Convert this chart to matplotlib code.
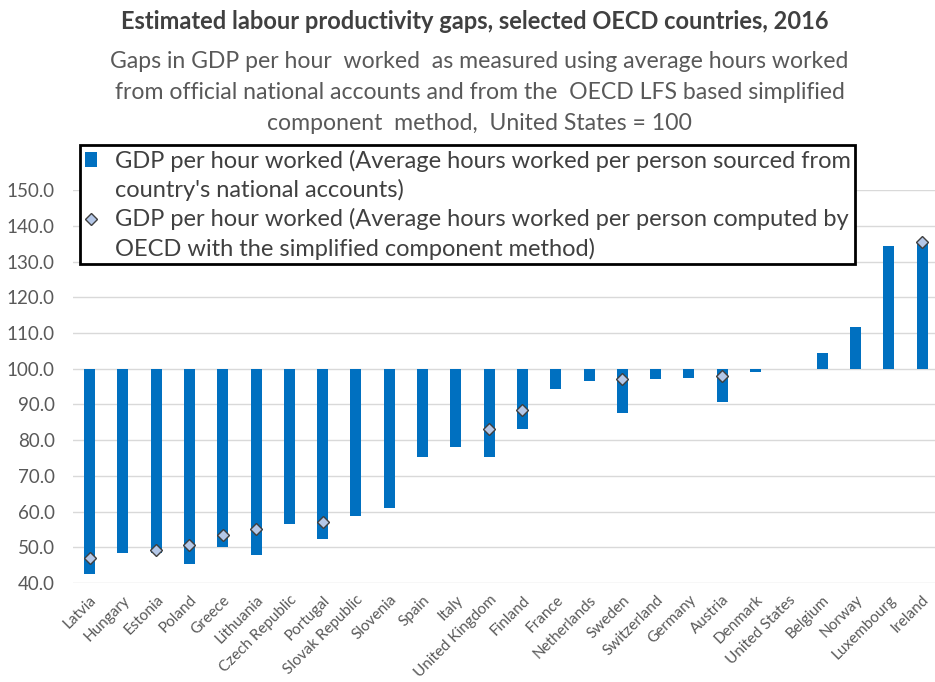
import matplotlib
matplotlib.use("Agg")
import matplotlib.pyplot as plt
from matplotlib.lines import Line2D
import numpy as np

plt.rcParams['font.family'] = ['Lato', 'DejaVu Sans']

countries = ["Latvia", "Hungary", "Estonia", "Poland", "Greece", "Lithuania",
             "Czech Republic", "Portugal", "Slovak Republic", "Slovenia", "Spain",
             "Italy", "United Kingdom", "Finland", "France", "Netherlands", "Sweden",
             "Switzerland", "Germany", "Austria", "Denmark", "United States",
             "Belgium", "Norway", "Luxembourg", "Ireland"]
# national accounts hours
gdp_na = [42.5, 48.4, 48.4, 45.3, 50.1, 47.9, 56.6, 52.4, 58.7, 61.0, 75.4,
          78.0, 75.4, 83.1, 94.2, 96.5, 87.5, 97.0, 97.4, 90.6, 99.2, 100.0,
          104.5, 111.6, 134.4, 135.1]
# OECD simplified component method
gdp_scm = [47.1, np.nan, 49.3, 50.7, 53.5, 55.2, np.nan, 57.0, np.nan, np.nan,
           np.nan, np.nan, 83.1, 88.5, np.nan, np.nan, 97.0, np.nan, np.nan,
           97.9, np.nan, np.nan, np.nan, np.nan, np.nan, 135.6]
yticks = [40, 50, 60, 70, 80, 90, 100, 110, 120, 130, 140, 150]

lab1 = ["GDP per hour worked (Average hours worked per person sourced from",
        "country's national accounts)"]
lab2 = ["GDP per hour worked (Average hours worked per person computed by",
        "OECD with the simplified component method)"]

fig = plt.figure(figsize=(9.35, 6.82), dpi=100)
ax = fig.add_axes([0.078, 0.145, 0.926, 0.5762])

x = np.arange(len(countries))
vals = np.array(gdp_na)
bars = ax.bar(x, vals - 100, bottom=100, width=0.33, color="#0070C0", zorder=2)
pts, = ax.plot(x, gdp_scm, linestyle="none", marker="D", markersize=6,
               markerfacecolor="#B4C7E7", markeredgecolor="#404040",
               markeredgewidth=1, zorder=3)

ax.set_xlim(-0.5, len(countries) - 0.5)
ax.set_ylim(40, 150)
ax.set_yticks(yticks)
ax.set_yticklabels([f"{v:.1f}" for v in yticks])
ax.yaxis.grid(True, color="#D9D9D9", linewidth=1, zorder=0)
ax.set_axisbelow(True)
for s in ax.spines.values():
    s.set_visible(False)
ax.tick_params(axis="both", length=0, colors="#595959")
ax.tick_params(axis="y", pad=13, labelsize=13.5)
ax.set_xticks(x)
ax.set_xticklabels(countries, rotation=45, ha="right", rotation_mode="anchor")
ax.tick_params(axis="x", pad=7, labelsize=11)

fig.text(0.508, 0.968, "Estimated labour productivity gaps, selected OECD countries, 2016",
         ha="center", va="center", fontsize=17, fontweight="bold", color="#404040")
fig.text(0.513, 0.864,
         "Gaps in GDP per hour  worked  as measured using average hours worked\n"
         "from official national accounts and from the  OECD LFS based simplified\n"
         "component  method,  United States = 100",
         ha="center", va="center", fontsize=16.6, color="#595959", linespacing=1.58)

blank = Line2D([], [], linestyle="none")
leg = fig.legend([bars, blank, pts, blank], lab1 + lab2, loc="upper left",
                 bbox_to_anchor=(0.086, 0.787), fontsize=17, frameon=True,
                 fancybox=False, edgecolor="black", framealpha=1,
                 handlelength=0.5, handletextpad=0.75, borderpad=0.2,
                 labelspacing=0.3, borderaxespad=0, handleheight=0.6)
leg.get_frame().set_linewidth(2)
for t in leg.get_texts():
    t.set_color("#404040")

fig.savefig("out.png", dpi=100)
